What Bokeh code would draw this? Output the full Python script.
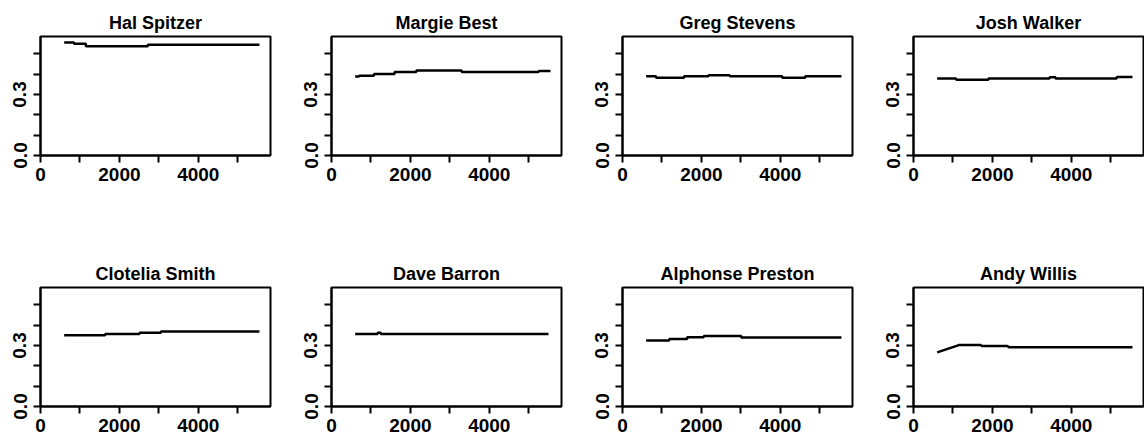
from bokeh.plotting import figure
from bokeh.models import Range1d, FixedTicker, PrintfTickFormatter
from bokeh.layouts import gridplot
from bokeh.embed import file_html
from bokeh.resources import INLINE

# ---- data ----
names = ["Hal Spitzer", "Margie Best", "Greg Stevens", "Josh Walker",
         "Clotelia Smith", "Dave Barron", "Alphonse Preston", "Andy Willis"]

x_hal = [600, 850, 1150, 2720, 5550]
y_hal = [0.556, 0.549, 0.537, 0.544, 0.544]

x_margie = [600, 700, 1075, 1600, 2150, 3300, 5250, 5550]
y_margie = [0.388, 0.392, 0.401, 0.410, 0.418, 0.411, 0.416, 0.416]

x_greg = [600, 850, 1560, 2180, 2720, 4050, 4630, 5550]
y_greg = [0.389, 0.382, 0.389, 0.395, 0.389, 0.382, 0.389, 0.389]

x_josh = [600, 1080, 1900, 3450, 3600, 5150, 5550]
y_josh = [0.379, 0.372, 0.379, 0.385, 0.379, 0.386, 0.386]

x_clotelia = [600, 1640, 2510, 3050, 5550]
y_clotelia = [0.350, 0.357, 0.362, 0.369, 0.369]

x_dave = [600, 1170, 1250, 5500]
y_dave = [0.356, 0.362, 0.356, 0.356]

x_alphonse = [600, 1185, 1640, 2060, 3010, 5550]
y_alphonse = [0.324, 0.332, 0.340, 0.346, 0.339, 0.339]

x_andy = [600, 1150, 1700, 1740, 2380, 2420, 5550]
y_andy = [0.266, 0.302, 0.302, 0.297, 0.297, 0.291, 0.291]

series_x = [x_hal, x_margie, x_greg, x_josh, x_clotelia, x_dave, x_alphonse, x_andy]
series_y = [y_hal, y_margie, y_greg, y_josh, y_clotelia, y_dave, y_alphonse, y_andy]
ramp = [False, False, False, False, False, False, False, True]

x_major = [0, 2000, 4000]
x_minor = [1000, 3000, 5000]
y_major = [0.0, 0.3]
y_minor = [0.1, 0.2, 0.4, 0.5]
x_lim = (0, 5830)
y_lim = (0, 0.585)

FONT = "Liberation Sans"
FRAME_W, FRAME_H = 230, 119

figs = []
for i, name in enumerate(names):
    col, row = i % 4, i // 4
    left, right = 40, (21 if col < 3 else 1)
    top, bottom = 36, (96 if row == 0 else 31)
    p = figure(width=left + FRAME_W + right, height=top + FRAME_H + bottom,
               x_range=Range1d(*x_lim), y_range=Range1d(*y_lim),
               output_backend="svg", toolbar_location=None,
               min_border_left=left, min_border_right=right,
               min_border_top=top, min_border_bottom=bottom,
               title=name)
    p.title.align = "center"
    p.title.text_font = FONT
    p.title.text_font_style = "bold"
    p.title.text_font_size = "18px"
    p.title.text_color = "black"
    p.title.standoff = 8
    p.grid.visible = False
    p.outline_line_color = "black"
    p.outline_line_width = 2
    p.outline_line_alpha = 1
    p.background_fill_color = "white"
    p.border_fill_color = "white"

    p.xaxis.ticker = FixedTicker(ticks=x_major, minor_ticks=x_minor)
    p.yaxis.ticker = FixedTicker(ticks=y_major, minor_ticks=y_minor)
    p.yaxis.formatter = PrintfTickFormatter(format="%.1f")
    for ax in (p.xaxis, p.yaxis):
        ax.axis_line_width = 2
        ax.axis_line_color = "black"
        ax.major_tick_in = 0
        ax.major_tick_out = 7
        ax.minor_tick_in = 0
        ax.minor_tick_out = 7
        ax.major_tick_line_width = 2
        ax.minor_tick_line_width = 2
        ax.major_tick_line_color = "black"
        ax.minor_tick_line_color = "black"
        ax.major_label_text_font = FONT
        ax.major_label_text_font_style = "bold"
        ax.major_label_text_font_size = "19px"
        ax.major_label_text_color = "black"
    p.xaxis.major_label_standoff = 5
    p.yaxis.major_label_standoff = 7
    p.yaxis.major_label_orientation = "vertical"

    if ramp[i]:
        p.line(series_x[i], series_y[i], line_color="black", line_width=2.5)
    else:
        p.step(series_x[i], series_y[i], mode="after", line_color="black", line_width=2.5)
    figs.append(p)

grid = gridplot([figs[:4], figs[4:]], toolbar_location=None)
open("out.html", "w").write(file_html(grid, INLINE))
